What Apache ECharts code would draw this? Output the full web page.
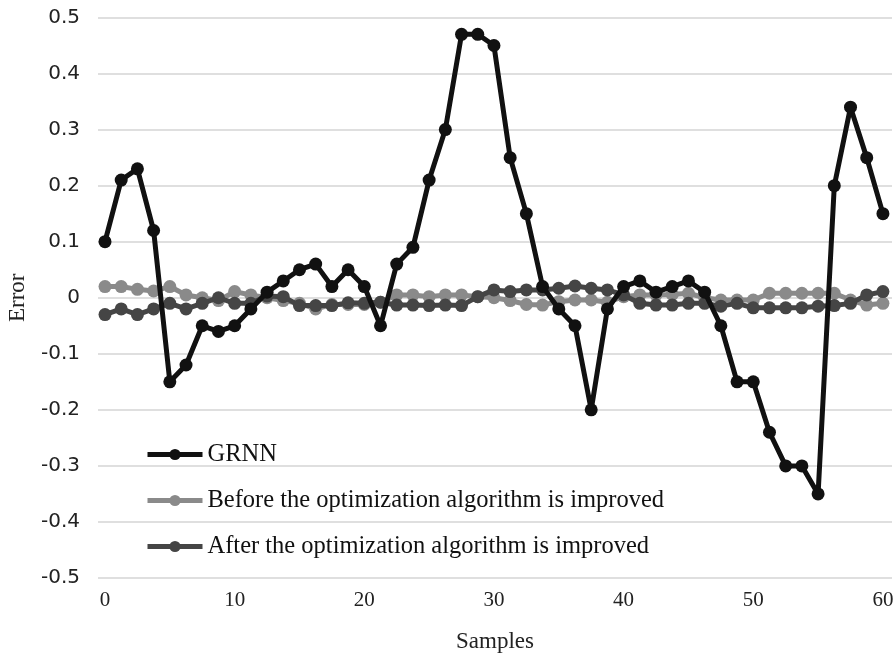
<!DOCTYPE html>
<html>
<head>
<meta charset="utf-8">
<script src="https://cdn.jsdelivr.net/npm/echarts@6/dist/echarts.min.js"></script>
<style>
html,body{margin:0;padding:0;background:#fff;}
#chart{width:896px;height:659px;}
</style>
</head>
<body>
<div id="chart"></div>
<script>
const samples = [0,1.25,2.5,3.75,5,6.25,7.5,8.75,10,11.25,12.5,13.75,15,16.25,17.5,18.75,20,21.25,22.5,23.75,25,26.25,27.5,28.75,30,31.25,32.5,33.75,35,36.25,37.5,38.75,40,41.25,42.5,43.75,45,46.25,47.5,48.75,50,51.25,52.5,53.75,55,56.25,57.5,58.75,60];
const grnn = [0.10,0.21,0.23,0.12,-0.15,-0.12,-0.05,-0.06,-0.05,-0.02,0.01,0.03,0.05,0.06,0.02,0.05,0.02,-0.05,0.06,0.09,0.21,0.30,0.47,0.47,0.45,0.25,0.15,0.02,-0.02,-0.05,-0.20,-0.02,0.02,0.03,0.01,0.02,0.03,0.01,-0.05,-0.15,-0.15,-0.24,-0.30,-0.30,-0.35,0.20,0.34,0.25,0.15];
const before = [0.02,0.02,0.015,0.012,0.02,0.005,0,-0.005,0.011,0.005,0,-0.005,-0.01,-0.02,-0.012,-0.012,-0.012,-0.008,0.005,0.005,0.002,0.005,0.005,0.002,0,-0.005,-0.012,-0.013,-0.007,-0.004,-0.004,-0.008,0.002,0.005,0.005,0.006,0.008,0,-0.004,-0.004,-0.004,0.008,0.008,0.008,0.008,0.008,-0.004,-0.013,-0.01];
const after = [-0.03,-0.02,-0.03,-0.02,-0.01,-0.02,-0.01,0,-0.01,-0.01,0.003,0.002,-0.014,-0.014,-0.014,-0.009,-0.01,-0.008,-0.013,-0.013,-0.014,-0.013,-0.014,0.002,0.014,0.011,0.014,0.014,0.017,0.021,0.017,0.014,0.005,-0.01,-0.013,-0.013,-0.01,-0.01,-0.015,-0.01,-0.018,-0.018,-0.018,-0.018,-0.015,-0.014,-0.01,0.005,0.011];
const xTicks = [0,10,20,30,40,50,60];
const seriesNames = ['GRNN','Before the optimization algorithm is improved','After the optimization algorithm is improved'];
const colors = ['#111111','#8a8a8a','#454545'];

const pairs = arr => samples.map((x,i)=>[x,arr[i]]);
const chart = echarts.init(document.getElementById('chart'), null, {renderer:'canvas'});
const mk = (name, data, color, z) => ({
  name, type:'line', data: pairs(data), z,
  symbol:'circle', symbolSize:13, showSymbol:true,
  lineStyle:{color, width:5}, itemStyle:{color, borderWidth:0},
  emphasis:{disabled:true}, animation:false
});
chart.setOption({
  animation:false,
  grid:{left:98, right:4, top:17.5, bottom:81, containLabel:false, outerBoundsMode:'none'},
  legend:{
    orient:'vertical', left:140, top:437, itemGap:21,
    itemWidth:55, itemHeight:14,
    lineStyle:{width:5},
    textStyle:{fontFamily:'Liberation Serif', fontSize:24.5, color:'#111'},
    data: seriesNames
  },
  xAxis:{
    type:'value', min:-0.54, max:60.7,
    name:'Samples', nameLocation:'middle', nameGap:52,
    nameTextStyle:{fontFamily:'Liberation Serif', fontSize:23, color:'#222'},
    axisLine:{show:false}, axisTick:{show:false}, splitLine:{show:false},
    axisLabel:{customValues:xTicks, fontFamily:'Liberation Serif', fontSize:21, color:'#222', margin:12}
  },
  yAxis:{
    type:'value', min:-0.5, max:0.5, interval:0.1,
    name:'Error', nameLocation:'middle', nameGap:69, nameRotate:90,
    nameTextStyle:{fontFamily:'Liberation Serif', fontSize:23, color:'#222'},
    axisLine:{show:false}, axisTick:{show:false},
    splitLine:{lineStyle:{color:'#d4d4d4', width:1.5}},
    axisLabel:{fontFamily:'DejaVu Sans', fontSize:20, color:'#222', margin:18,
      formatter: v => (Math.round(v*10)/10).toString()}
  },
  series:[
    mk(seriesNames[0], grnn, colors[0], 4),
    mk(seriesNames[1], before, colors[1], 2),
    mk(seriesNames[2], after, colors[2], 3)
  ]
});
</script>
</body>
</html>
